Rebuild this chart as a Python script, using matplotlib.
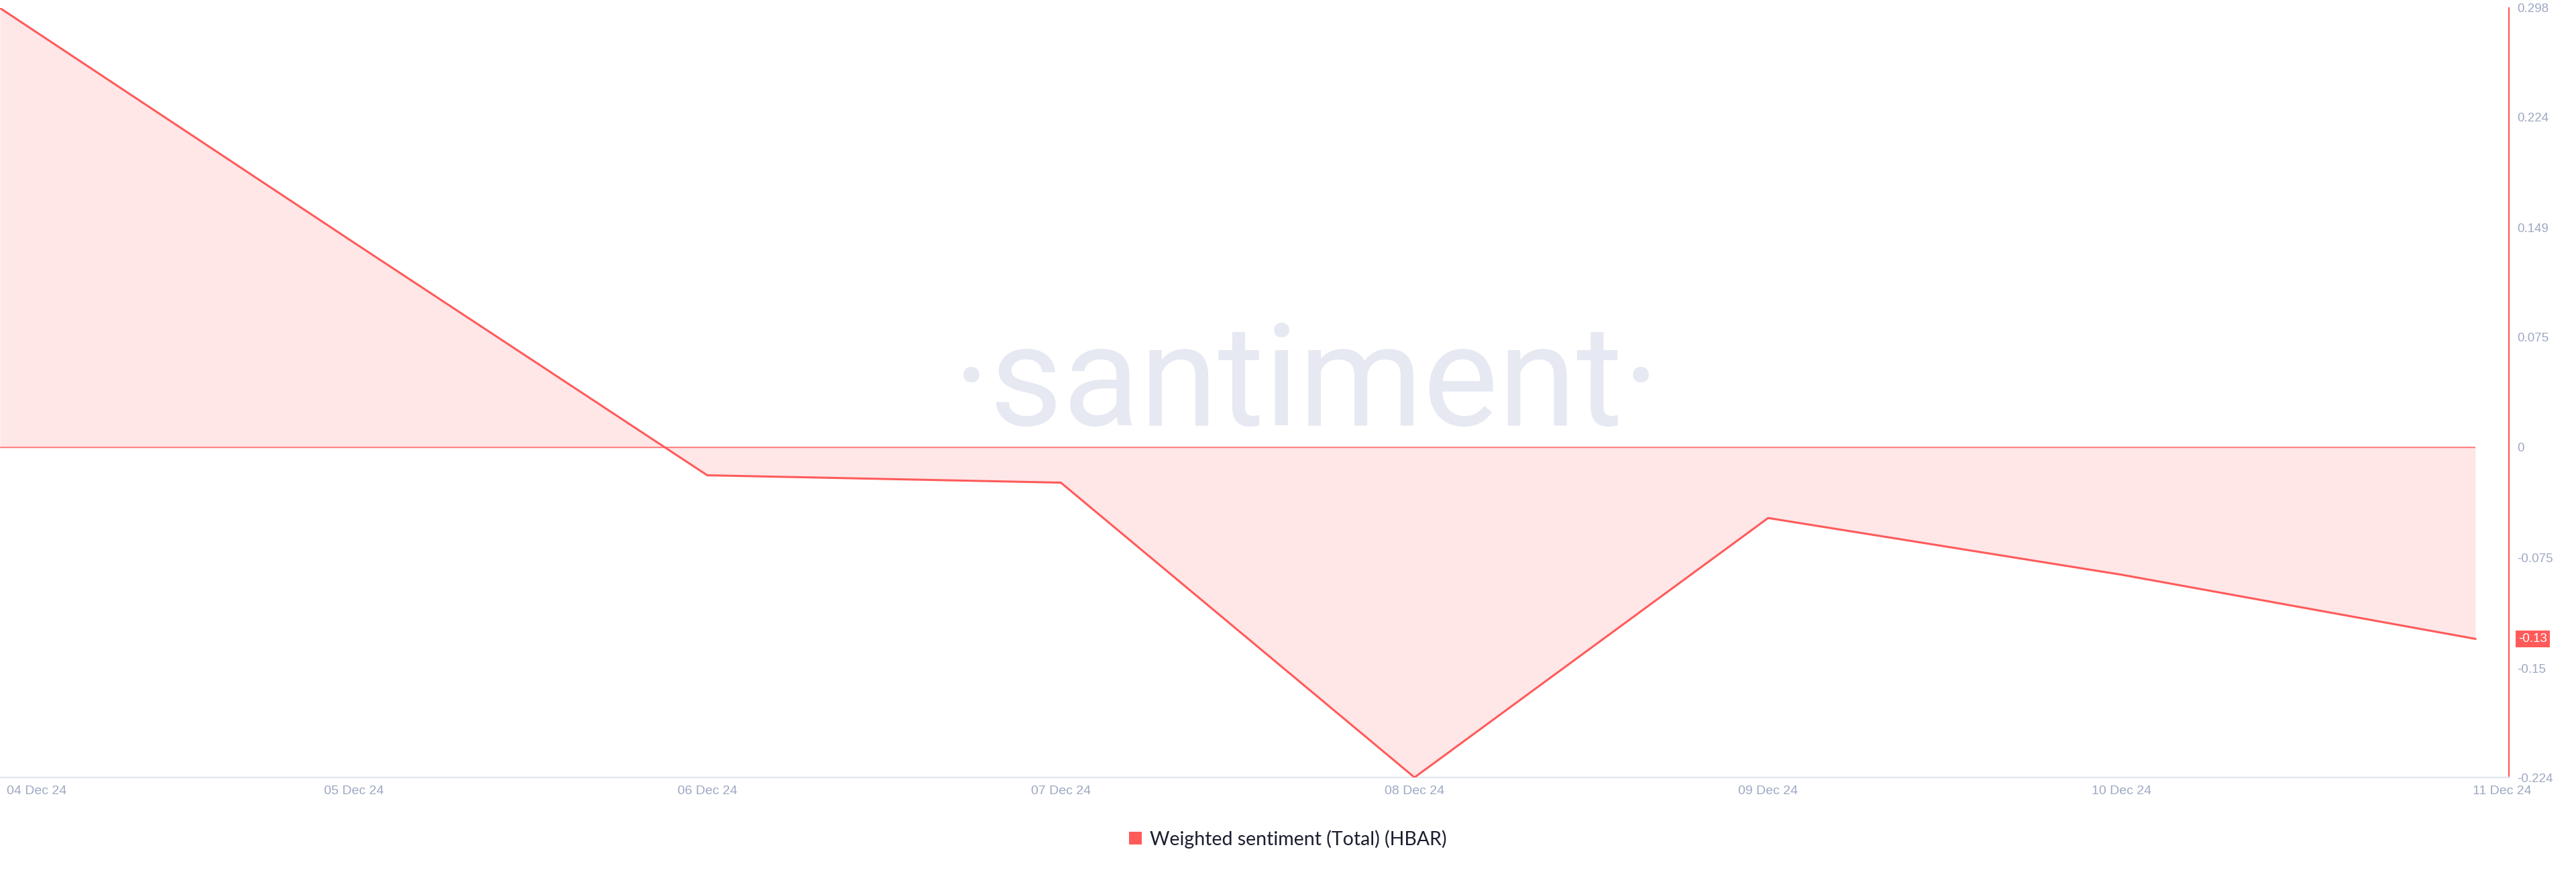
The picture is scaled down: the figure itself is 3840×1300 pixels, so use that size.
import matplotlib
matplotlib.use("Agg")
import matplotlib.pyplot as plt
import matplotlib.transforms as mtransforms
from matplotlib.patches import Patch

# ---- data ----
dates = ["04 Dec 24", "05 Dec 24", "06 Dec 24", "07 Dec 24",
         "08 Dec 24", "09 Dec 24", "10 Dec 24", "11 Dec 24"]
sentiment = [0.298, 0.139, -0.019, -0.024, -0.224, -0.048, -0.0865, -0.130]
ytick_values = [0.298, 0.224, 0.149, 0.075, 0, -0.075, -0.15, -0.224]
ytick_labels = ["0.298", "0.224", "0.149", "0.075", "0", "-0.075", "-0.15", "-0.224"]
last_label = "-0.13"
series_name = "Weighted sentiment (Total) (HBAR)"

# ---- style ----
LINE = "#ff5a5a"
FILL = "#ffe6e7"
ZERO = "#ff8585"
TICK = "#9da8c3"
AXIS_GREY = "#e2e5ef"
WATER = "#e6e9f2"

W, H, DPI = 3840, 1300, 100
fig = plt.figure(figsize=(W / DPI, H / DPI), dpi=DPI)
fig.patch.set_facecolor("white")

right_px, top_px, bottom_px = 3740, 12, 1159
ax = fig.add_axes([0, 1 - bottom_px / H, right_px / W, (bottom_px - top_px) / H])
ax.set_facecolor("white")

x = list(range(len(dates)))
ax.set_xlim(0, 7 * 3740 / 3690)
ax.set_ylim(-0.224, 0.298)

# watermark
fig.text(1948 / W, 1 - 634 / H, "\u00b7santiment\u00b7", fontsize=152,
         family="Roboto", color=WATER, ha="center", va="baseline", zorder=0)

ax.fill_between(x, sentiment, 0, color=FILL, lw=0, zorder=1)
ax.hlines(0, x[0], x[-1], color=ZERO, lw=1.6, zorder=2)
ax.plot(x, sentiment, color=LINE, lw=2.2, zorder=3, solid_joinstyle="miter")

for s in ["top", "left"]:
    ax.spines[s].set_visible(False)
ax.spines["right"].set_color(LINE)
ax.spines["right"].set_linewidth(1.6)
ax.spines["bottom"].set_color(AXIS_GREY)
ax.spines["bottom"].set_linewidth(1.6)

ax.yaxis.tick_right()
ax.set_yticks(ytick_values)
ax.set_yticklabels(ytick_labels)
ax.tick_params(axis="y", length=0, pad=9, labelsize=13.5, labelcolor=TICK)
for lab in ax.get_yticklabels():
    lab.set_family("Liberation Sans")

ax.set_xticks(x)
ax.set_xticklabels(dates)
ax.tick_params(axis="x", length=0, pad=9, labelsize=14, labelcolor=TICK)
xl = ax.get_xticklabels()
for lab in xl:
    lab.set_family("Liberation Sans")
xl[0].set_ha("left")
xl[0].set_transform(xl[0].get_transform() + mtransforms.ScaledTranslation(10 / DPI, 0, fig.dpi_scale_trans))
xl[-1].set_transform(xl[-1].get_transform() + mtransforms.ScaledTranslation(40 / DPI, 0, fig.dpi_scale_trans))

# last value label
trans = mtransforms.blended_transform_factory(ax.transAxes, ax.transData)
ax.text(1.0, sentiment[-1], last_label,
        transform=trans + mtransforms.ScaledTranslation(14 / DPI, 0, fig.dpi_scale_trans),
        ha="left", va="center", fontsize=13.5, family="Liberation Sans", color="white",
        bbox=dict(boxstyle="square,pad=0.2", fc=LINE, ec="none"), clip_on=False, zorder=5)

# legend
fig.legend(handles=[Patch(facecolor=LINE, edgecolor="none")], labels=[series_name],
           loc="center", bbox_to_anchor=(0.5, 1 - 1251 / H), frameon=False,
           handlelength=0.65, handleheight=0.65, handletextpad=0.45,
           prop={"family": "Lato", "size": 20.5}, labelcolor="#1b1e2f")

fig.savefig("out.png", dpi=DPI, facecolor="white")
